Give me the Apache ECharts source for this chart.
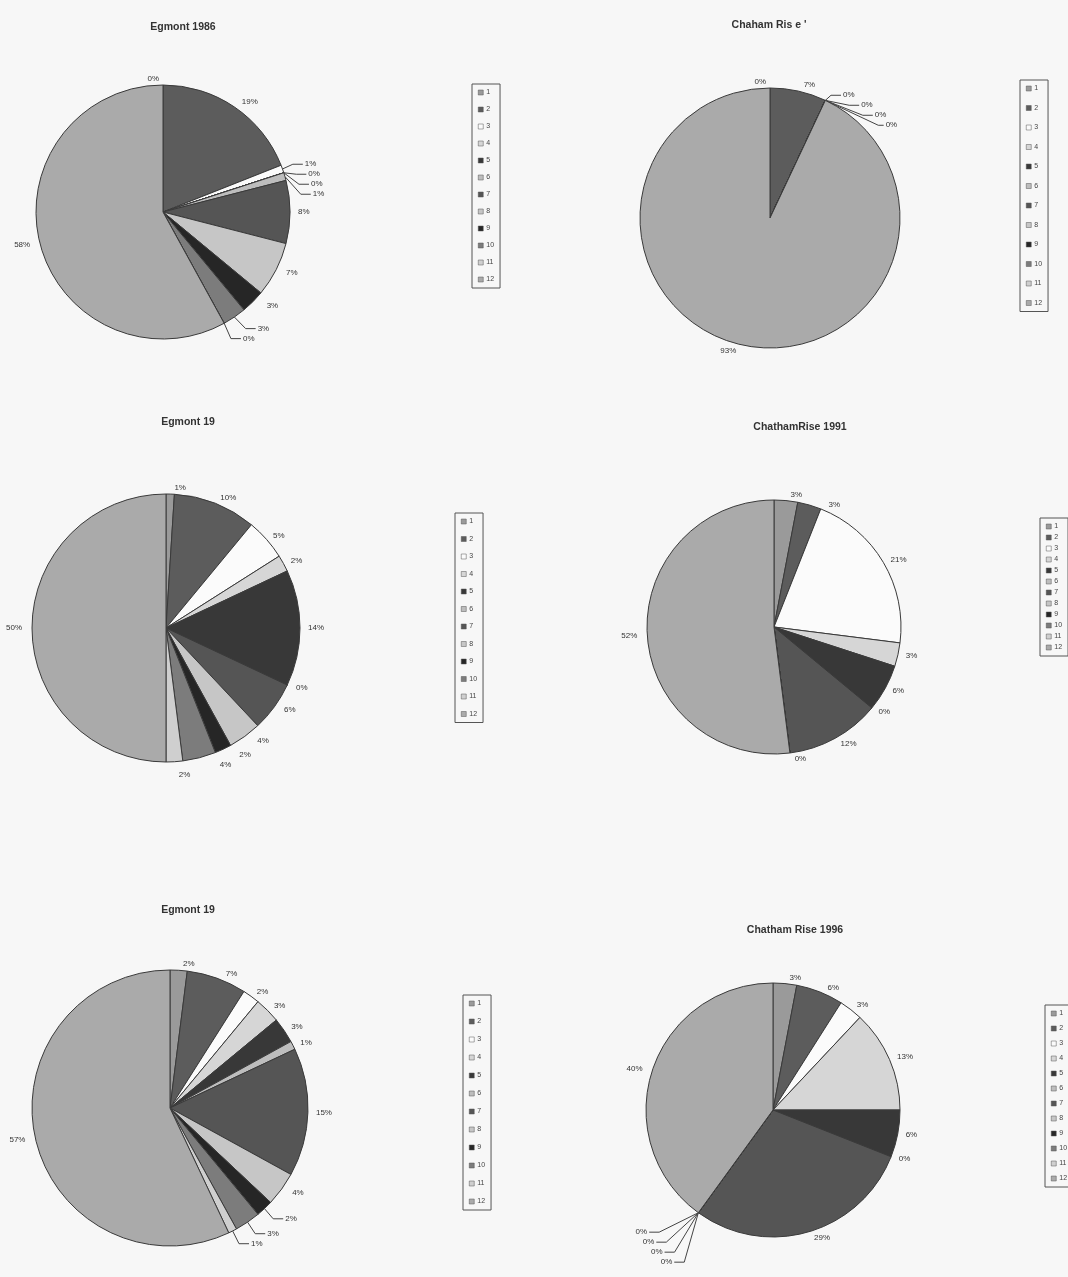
<!DOCTYPE html>
<html>
<head>
    <meta charset="utf-8">
    <script src="https://cdn.jsdelivr.net/npm/echarts@6/dist/echarts.min.js"></script>
</head>
<body style="margin:0; background:#f7f7f7;">
<div id="main" style="width: 1068px; height: 1277px;"></div>
<script type="text/javascript">
    // categories 1..12, values in percent, clockwise from 12 o'clock
    let categories = ['1', '2', '3', '4', '5', '6', '7', '8', '9', '10', '11', '12']

    let egmont1986 = [0, 19, 1, 0, 0, 1, 8, 7, 3, 3, 0, 58]
    let chathamRiseA = [0, 7, 0, 0, 0, 0, 0, 0, 0, 0, 0, 93]
    let egmont19a = [1, 10, 5, 2, 14, 0, 6, 4, 2, 4, 2, 50]
    let chathamRise1991 = [3, 3, 21, 3, 6, 0, 12, 0, 0, 0, 0, 52]
    let egmont19b = [2, 7, 2, 3, 3, 1, 15, 4, 2, 3, 1, 57]
    let chathamRise1996 = [3, 6, 3, 13, 6, 0, 29, 0, 0, 0, 0, 40]

    let titles = ['Egmont 1986', 'Chaham Ris e \'', 'Egmont 19', 'ChathamRise 1991', 'Egmont 19', 'Chatham Rise 1996']

    let greys = ['#9a9a9a', '#5c5c5c', '#fbfbfb', '#d6d6d6', '#383838', '#bdbdbd',
        '#555555', '#c6c6c6', '#262626', '#7c7c7c', '#cfcfcf', '#aaaaaa']

    let myChart = echarts.init(document.getElementById('main'))

    function makePie(values, center, radius, leaders, hidden, leadLen) {
        return {
            type: 'pie',
            center: center,
            radius: radius,
            startAngle: 90,
            clockwise: true,
            animation: false,
            silent: true,
            avoidLabelOverlap: true,
            itemStyle: {borderColor: '#3a3a3a', borderWidth: 1},
            label: {
                fontSize: 8,
                fontFamily: 'Liberation Sans',
                color: '#333',
                distanceToLabelLine: 2,
                bleedMargin: 1,
                formatter: function (p) {
                    return Math.round(p.percent) + '%'
                }
            },
            labelLine: {show: false, length: 6, length2: 2},
            data: values.map(function (v, i) {
                let item = {name: categories[i], value: v, itemStyle: {color: greys[i]}}
                if (leaders.indexOf(i) >= 0) {
                    item.labelLine = {show: true, length: leadLen, length2: 10, lineStyle: {color: '#444', width: 1}}
                }
                if (hidden.indexOf(i) >= 0) {
                    item.label = {show: false}
                    item.labelLine = {show: false}
                }
                return item
            })
        }
    }

    function makeLegend(left, top, gap) {
        return {
            data: categories,
            orient: 'vertical',
            left: left,
            top: top,
            itemWidth: 5,
            itemHeight: 5,
            itemGap: gap,
            padding: [5, 6, 5, 6],
            borderColor: '#555',
            borderWidth: 1,
            selectedMode: false,
            icon: 'rect',
            textStyle: {fontSize: 7, color: '#444', fontFamily: 'Liberation Sans', padding: [0, 0, 0, -2]},
            itemStyle: {borderColor: '#555', borderWidth: 0.5}
        }
    }

    let titlePos = [[178, 17], [764, 15], [183, 412], [795, 417], [183, 900], [790, 920]]

    let option = {
        backgroundColor: '#f7f7f7',
        title: titles.map(function (t, i) {
            return {
                text: t,
                left: titlePos[i][0],
                top: titlePos[i][1],
                textAlign: 'center',
                textStyle: {fontSize: 10.5, fontWeight: 'bold', color: '#333', fontFamily: 'Liberation Sans'}
            }
        }),
        legend: [
            makeLegend(472, 84, 10),
            makeLegend(1020, 80, 12.5),
            makeLegend(455, 513, 10.5),
            makeLegend(1040, 518, 4),
            makeLegend(463, 995, 11),
            makeLegend(1045, 1005, 8)
        ],
        series: [
            makePie(egmont1986, [163, 212], 127, [2, 3, 4, 5, 9, 10], [], 14),
            makePie(chathamRiseA, [770, 218], 130, [2, 3, 4, 5], [6, 7, 8, 9, 10], 14),
            makePie(egmont19a, [166, 628], 134, [], [], 14),
            makePie(chathamRise1991, [774, 627], 127, [], [8, 9, 10], 14),
            makePie(egmont19b, [170, 1108], 138, [8, 9, 10], [], 14),
            makePie(chathamRise1996, [773, 1110], 127, [7, 8, 9, 10], [], 24)
        ]
    }
    myChart.setOption(option)
</script>
</body>
</html>
